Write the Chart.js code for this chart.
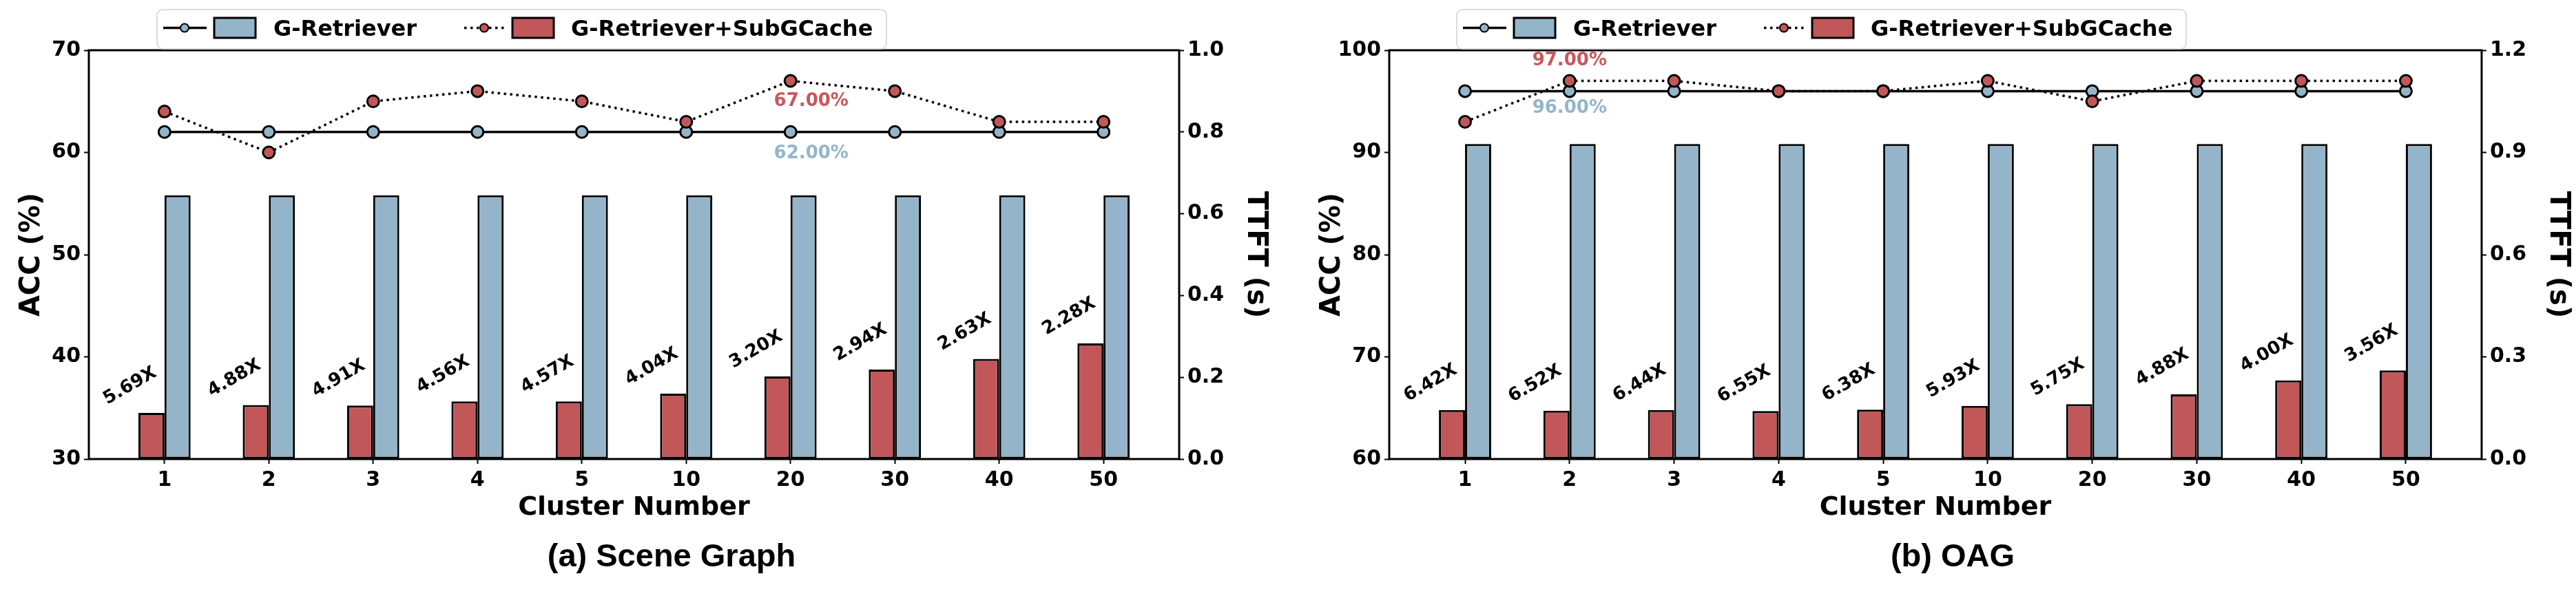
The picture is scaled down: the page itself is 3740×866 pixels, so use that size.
<!DOCTYPE html>
<html>
<head>
<meta charset="utf-8">
<script src="https://cdn.jsdelivr.net/npm/chart.js@4.4.1/dist/chart.umd.min.js"></script>
<style>
  body { margin: 0; background: #fff; }
  #wrap { position: relative; width: 3740px; height: 866px; overflow: hidden; background: #fff; }
  canvas { position: absolute; top: 0; }
  .legend { position: absolute; top: 13px; }
  .caption { position: absolute; top: 779px; width: 800px; margin-left: -400px; text-align: center;
             font: bold 47px 'Liberation Sans', Arial, sans-serif; line-height: 56px; color: #000; }
</style>
</head>
<body>
<div id="wrap">
  <canvas id="chartSG" width="1870" height="866" style="left:0"></canvas>
  <canvas id="chartOAG" width="1870" height="866" style="left:1870px"></canvas>
  <div class="legend" id="legSG" style="left:227px"></div>
  <div class="legend" id="legOAG" style="left:2114px"></div>
  <div class="caption" style="left:975px">(a) Scene Graph</div>
  <div class="caption" style="left:2835px">(b) OAG</div>
</div>
<script>
// data
const clusters = ['1', '2', '3', '4', '5', '10', '20', '30', '40', '50'];
const seriesNames = ['G-Retriever', 'G-Retriever+SubGCache'];

const sgAccBase = [62, 62, 62, 62, 62, 62, 62, 62, 62, 62];
const sgAccCache = [64, 60, 65, 66, 65, 63, 67, 66, 63, 63];
const sgTtftBase = [0.645, 0.645, 0.645, 0.645, 0.645, 0.645, 0.645, 0.645, 0.645, 0.645];
const sgTtftCache = [0.113, 0.132, 0.131, 0.141, 0.141, 0.160, 0.202, 0.219, 0.245, 0.283];
const sgSpeedup = ['5.69X', '4.88X', '4.91X', '4.56X', '4.57X', '4.04X', '3.20X', '2.94X', '2.63X', '2.28X'];
const sgAccTicks = [30, 40, 50, 60, 70];
const sgTtftTicks = [0, 0.2, 0.4, 0.6, 0.8, 1.0];

const oagAccBase = [96, 96, 96, 96, 96, 96, 96, 96, 96, 96];
const oagAccCache = [93, 97, 97, 96, 96, 97, 95, 97, 97, 97];
const oagTtftBase = [0.925, 0.925, 0.925, 0.925, 0.925, 0.925, 0.925, 0.925, 0.925, 0.925];
const oagTtftCache = [0.144, 0.142, 0.144, 0.141, 0.145, 0.156, 0.161, 0.190, 0.231, 0.260];
const oagSpeedup = ['6.42X', '6.52X', '6.44X', '6.55X', '6.38X', '5.93X', '5.75X', '4.88X', '4.00X', '3.56X'];
const oagAccTicks = [60, 70, 80, 90, 100];
const oagTtftTicks = [0, 0.3, 0.6, 0.9, 1.2];

const RED = '#C25759';
const BLUE = '#94B5C9';
const RED_TXT = '#C9575B';
const BLUE_TXT = '#93B6CB';
const FONT = "'DejaVu Sans', sans-serif";

Chart.defaults.font.family = FONT;

function buildLegend(el) {
  const w = 1061, h = 59, cy = 27.5;
  el.innerHTML =
    '<svg width="' + w + '" height="' + h + '" xmlns="http://www.w3.org/2000/svg">' +
    '<rect x="1" y="1" width="' + (w - 2) + '" height="' + (h - 2) + '" rx="8" fill="#fff" stroke="#dcdcdc" stroke-width="2"/>' +
    '<line x1="10" y1="' + cy + '" x2="73" y2="' + cy + '" stroke="#000" stroke-width="3.5"/>' +
    '<circle cx="41" cy="' + cy + '" r="6" fill="' + BLUE + '" stroke="#000" stroke-width="2"/>' +
    '<rect x="84" y="13" width="60" height="29" fill="' + BLUE + '" stroke="#000" stroke-width="3"/>' +
    '<text x="170" y="39" font-family="DejaVu Sans" font-weight="bold" font-size="32">' + seriesNames[0] + '</text>' +
    '<line x1="447" y1="' + cy + '" x2="506" y2="' + cy + '" stroke="#000" stroke-width="3.5" stroke-dasharray="3.5 5.5"/>' +
    '<circle cx="476" cy="' + cy + '" r="6" fill="' + RED + '" stroke="#000" stroke-width="2"/>' +
    '<rect x="517" y="13" width="60" height="29" fill="' + RED + '" stroke="#000" stroke-width="3"/>' +
    '<text x="602" y="39" font-family="DejaVu Sans" font-weight="bold" font-size="32">' + seriesNames[1] + '</text>' +
    '</svg>';
}

function makeChart(id, o) {
  const pts = arr => arr.map((v, i) => ({ x: i, y: v }));
  const tickFont = { family: FONT, weight: 'bold', size: 30 };
  const titleFont = { family: FONT, weight: 'bold', size: 40 };

  // frame, speedup labels and the two percentage notes
  const overlay = {
    id: 'overlay',
    afterDatasetsDraw(chart) {
      const { ctx, chartArea: a, scales: { x, y, y1 } } = chart;
      ctx.save();
      ctx.textAlign = 'center';
      ctx.textBaseline = 'middle';
      ctx.font = 'bold 26px ' + FONT;
      ctx.fillStyle = '#000';
      o.speedup.forEach((t, i) => {
        const px = x.getPixelForValue(i) - 50;
        const py = y1.getPixelForValue(o.ttftCache[i]) - 39;
        ctx.save();
        ctx.translate(px, py);
        ctx.rotate(-Math.PI / 6);
        ctx.fillText(t, 0, 0);
        ctx.restore();
      });
      const n = o.note;
      const nx = x.getPixelForValue(n.index) + n.dx;
      ctx.fillStyle = RED_TXT;
      ctx.fillText(o.accCache[n.index].toFixed(2) + '%', nx, y.getPixelForValue(o.accCache[n.index]) + n.cacheDy);
      ctx.fillStyle = BLUE_TXT;
      ctx.fillText(o.accBase[n.index].toFixed(2) + '%', nx, y.getPixelForValue(o.accBase[n.index]) + n.baseDy);

      ctx.strokeStyle = '#000';
      ctx.lineWidth = 3;
      ctx.strokeRect(a.left, a.top, a.right - a.left, a.bottom - a.top);
      ctx.restore();
    }
  };

  return new Chart(document.getElementById(id), {
    type: 'bar',
    data: {
      datasets: [
        {
          type: 'line', label: seriesNames[1], data: pts(o.accCache), yAxisID: 'y', order: 0,
          borderColor: '#000', borderWidth: 3.5, borderDash: [3.5, 5.5], borderCapStyle: 'butt',
          pointRadius: 8.5, pointBackgroundColor: RED, pointBorderColor: '#000', pointBorderWidth: 3
        },
        {
          type: 'line', label: seriesNames[0], data: pts(o.accBase), yAxisID: 'y', order: 1,
          borderColor: '#000', borderWidth: 3.5,
          pointRadius: 8.5, pointBackgroundColor: BLUE, pointBorderColor: '#000', pointBorderWidth: 3
        },
        {
          label: seriesNames[1], data: pts(o.ttftCache), yAxisID: 'y1', order: 2,
          backgroundColor: RED, borderColor: '#000', borderWidth: 3, borderSkipped: false
        },
        {
          label: seriesNames[0], data: pts(o.ttftBase), yAxisID: 'y1', order: 2,
          backgroundColor: BLUE, borderColor: '#000', borderWidth: 3, borderSkipped: false
        }
      ]
    },
    options: {
      responsive: false,
      devicePixelRatio: 1,
      animation: false,
      layout: { padding: o.pad },
      datasets: { bar: { categoryPercentage: 0.5, barPercentage: 1 } },
      plugins: { legend: { display: false }, tooltip: { enabled: false } },
      scales: {
        x: {
          type: 'linear', min: -0.725, max: 9.725, offset: false,
          afterBuildTicks: s => { s.ticks = clusters.map((c, i) => ({ value: i })); },
          afterFit: s => { s.height = 96; },
          ticks: { callback: v => clusters[v], font: tickFont, color: '#000', padding: 6, maxRotation: 0, autoSkip: false },
          grid: { offset: false, drawOnChartArea: false, tickLength: 7, tickWidth: 2, tickColor: '#000' },
          border: { display: false },
          title: { display: true, text: 'Cluster Number', color: '#000',
                   font: { family: FONT, weight: 'bold', size: 38 }, padding: { top: 0, bottom: 2 } }
        },
        y: {
          position: 'left', min: o.accTicks[0], max: o.accTicks[o.accTicks.length - 1],
          afterBuildTicks: s => { s.ticks = o.accTicks.map(v => ({ value: v })); },
          afterFit: s => { s.width = 107; },
          ticks: { font: tickFont, color: '#000', padding: 5 },
          grid: { drawOnChartArea: false, tickLength: 7, tickWidth: 2, tickColor: '#000' },
          border: { display: false },
          title: { display: true, text: 'ACC (%)', color: '#000', font: titleFont, padding: { top: 1, bottom: 0 } }
        },
        y1: {
          position: 'right', min: 0, max: o.ttftTicks[o.ttftTicks.length - 1],
          afterBuildTicks: s => { s.ticks = o.ttftTicks.map(v => ({ value: v })); },
          afterFit: s => { s.width = 135; },
          ticks: { font: tickFont, color: '#000', padding: 5, callback: v => v.toFixed(1) },
          grid: { drawOnChartArea: false, tickLength: 7, tickWidth: 2, tickColor: '#000' },
          border: { display: false },
          title: { display: true, text: 'TTFT (s)', color: '#000', font: titleFont, padding: { top: 1, bottom: 0 } }
        }
      }
    },
    plugins: [overlay]
  });
}

buildLegend(document.getElementById('legSG'));
buildLegend(document.getElementById('legOAG'));

makeChart('chartSG', {
  accBase: sgAccBase, accCache: sgAccCache, ttftBase: sgTtftBase, ttftCache: sgTtftCache,
  speedup: sgSpeedup, accTicks: sgAccTicks, ttftTicks: sgTtftTicks,
  note: { index: 6, dx: 30, cacheDy: 30, baseDy: 31 },
  pad: { top: 73, bottom: 103, left: 22, right: 23 }
});

makeChart('chartOAG', {
  accBase: oagAccBase, accCache: oagAccCache, ttftBase: oagTtftBase, ttftCache: oagTtftCache,
  speedup: oagSpeedup, accTicks: oagAccTicks, ttftTicks: oagTtftTicks,
  note: { index: 1, dx: 0, cacheDy: -29, baseDy: 25 },
  pad: { top: 73, bottom: 103, left: 40, right: 2 }
});
</script>
</body>
</html>
